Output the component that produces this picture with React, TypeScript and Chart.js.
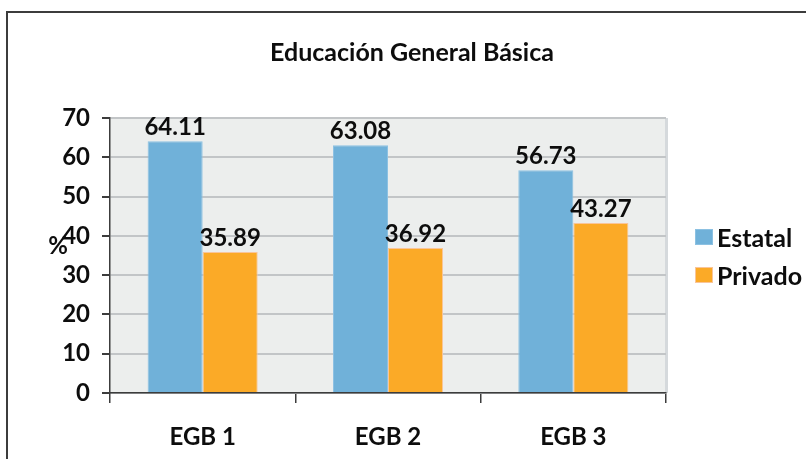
import React, { useEffect, useRef } from "react";
import { Chart, registerables } from "chart.js";

Chart.register(...registerables);

const chartTitle = "Educación General Básica";
const categories = ["EGB 1", "EGB 2", "EGB 3"];
const seriesNames = ["Estatal", "Privado"];
const estatal = [64.11, 63.08, 56.73];
const privado = [35.89, 36.92, 43.27];
const yMin = 0;
const yMax = 70;
const yStep = 10;
const yAxisLabel = "%";

const FONT = "Lato, 'Liberation Sans', sans-serif";
const BLUE = "#70b1d9";
const ORANGE = "#fbaa27";
const TEXT = "#0d0d0d";
const DARK = "#3c3c3c";
const FS = 24;

const extras = {
  id: "extras",
  beforeDraw(chart: any) {
    const ctx = chart.ctx;
    const a = chart.chartArea;
    ctx.save();
    ctx.fillStyle = "#ffffff";
    ctx.fillRect(0, 0, chart.width, chart.height);
    ctx.fillStyle = "#eceeed";
    ctx.fillRect(a.left, a.top, a.right - a.left, a.bottom - a.top);
    ctx.fillStyle = "#d5d9dc";
    ctx.fillRect(a.right - 1, a.top, 3, a.bottom - a.top);
    ctx.strokeStyle = DARK;
    ctx.lineWidth = 2;
    ctx.beginPath();
    ctx.moveTo(7, chart.height);
    ctx.lineTo(7, 12);
    ctx.lineTo(chart.width, 12);
    ctx.stroke();
    ctx.restore();
  },
  afterDatasetsDraw(chart: any) {
    const ctx = chart.ctx;
    ctx.save();
    ctx.fillStyle = TEXT;
    ctx.font = `bold ${FS}px ${FONT}`;
    ctx.textAlign = "center";
    ctx.textBaseline = "middle";
    chart.data.datasets.forEach((ds: any, i: number) => {
      const meta = chart.getDatasetMeta(i);
      meta.data.forEach((el: any, j: number) => {
        ctx.fillText(Number(ds.data[j]).toFixed(2), el.x, el.y - 14);
      });
    });
    ctx.restore();
  },
  afterDraw(chart: any) {
    const ctx = chart.ctx;
    ctx.save();
    ctx.fillStyle = TEXT;
    // title
    ctx.font = `bold 25px ${FONT}`;
    ctx.textAlign = "center";
    ctx.textBaseline = "middle";
    ctx.fillText(chartTitle, 412, 53);
    // axis label
    ctx.font = `bold ${FS}px ${FONT}`;
    ctx.fillText(yAxisLabel, 58, 246);
    // legend
    const colors = [BLUE, ORANGE];
    const borders = ["#8cc1e2", "#f9c59a"];
    ctx.font = `bold 25px ${FONT}`;
    ctx.textAlign = "left";
    ctx.textBaseline = "alphabetic";
    seriesNames.forEach((name, i) => {
      const y = 229 + i * 38;
      ctx.fillStyle = colors[i];
      ctx.fillRect(695, y, 18, 16);
      ctx.strokeStyle = borders[i];
      ctx.lineWidth = 1;
      ctx.strokeRect(695.5, y + 0.5, 17, 15);
      ctx.fillStyle = TEXT;
      ctx.fillText(name, 717, y + 18);
    });
    ctx.restore();
  },
};

export default function App() {
  const ref = useRef<HTMLCanvasElement | null>(null);
  useEffect(() => {
    if (!ref.current) return;
    const chart = new Chart(ref.current, {
      type: "bar",
      data: {
        labels: categories,
        datasets: [
          {
            label: seriesNames[0],
            data: estatal,
            backgroundColor: BLUE,
            borderColor: "#8cc1e2",
            borderWidth: 1,
            categoryPercentage: 0.594,
            barPercentage: 1,
          },
          {
            label: seriesNames[1],
            data: privado,
            backgroundColor: ORANGE,
            borderColor: "#f9c59a",
            borderWidth: 1,
            categoryPercentage: 0.594,
            barPercentage: 1,
          },
        ],
      },
      options: {
        animation: false,
        responsive: false,
        maintainAspectRatio: false,
        layout: { padding: { left: 50, top: 118, right: 140, bottom: 0 } },
        plugins: {
          legend: { display: false },
          title: { display: false },
          tooltip: { enabled: false },
        },
        scales: {
          x: {
            grid: {
              drawOnChartArea: false,
              tickLength: 10,
              color: DARK,
              tickColor: DARK,
              lineWidth: 1.5,
              offset: true,
            },
            border: { color: DARK, width: 1.5 },
            ticks: {
              font: { family: FONT, size: FS, weight: "bold" },
              color: TEXT,
              padding: 20,
            },
            afterFit(s: any) {
              s.height = 66;
            },
          },
          y: {
            min: yMin,
            max: yMax,
            ticks: {
              stepSize: yStep,
              font: { family: FONT, size: FS, weight: "bold" },
              color: TEXT,
              padding: 12,
            },
            grid: {
              color: "#c2c5c7",
              lineWidth: 2,
              tickColor: DARK,
              tickLength: 8,
            },
            border: { color: DARK, width: 1.5 },
            afterFit(s: any) {
              s.width = 60;
            },
          },
        },
      },
      plugins: [extras],
    } as any);
    return () => chart.destroy();
  }, []);
  return (
    <div style={{ position: "fixed", left: 0, top: 0, width: 806, height: 459 }}>
      <canvas ref={ref} width={806} height={459} style={{ display: "block" }} />
    </div>
  );
}
